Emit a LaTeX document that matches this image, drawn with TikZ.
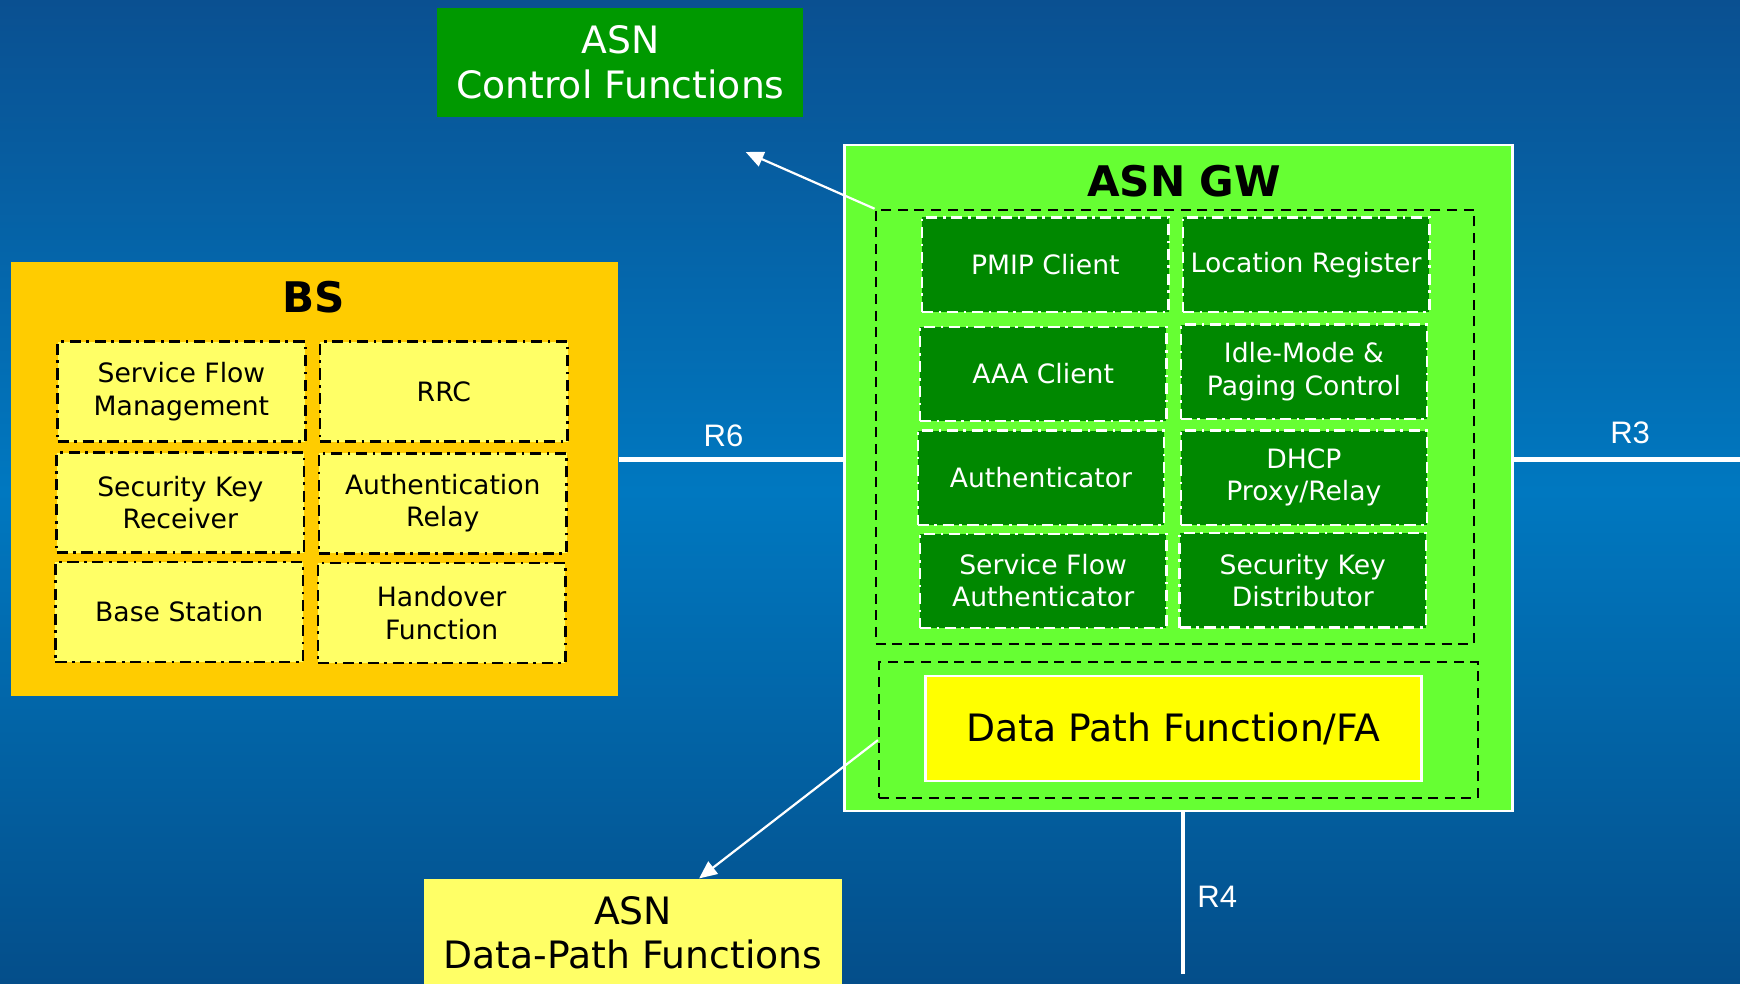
\documentclass[tikz,border=0pt]{standalone}
\usepackage{fontspec}
\setmainfont{DejaVu Sans}
\newfontfamily\arialfont{Liberation Sans}
\usetikzlibrary{arrows.meta}
\definecolor{bgtop}{RGB}{10,80,145}
\definecolor{bgmid}{RGB}{0,120,192}
\definecolor{bgbot}{RGB}{4,78,138}
\definecolor{ctrlgreen}{RGB}{0,153,0}
\definecolor{gwgreen}{RGB}{102,255,51}
\definecolor{subgreen}{RGB}{0,136,0}
\definecolor{bsorange}{RGB}{255,204,0}
\definecolor{lightyellow}{RGB}{255,255,102}
\definecolor{pureyellow}{RGB}{255,255,0}
\begin{document}
\begin{tikzpicture}[x=0.5pt,y=-0.5pt,
  dashdot/.style={dash pattern=on 5pt off 2.5pt on 1.2pt off 2.5pt},
  bssub/.style={draw=black, fill=lightyellow, line width=1.2pt, dashdot, minimum width=111.5pt, minimum height=45pt, inner sep=0pt, align=center, font=\fontsize{12}{14.5}\selectfont, text=black},
  gwsub/.style={draw=white, fill=subgreen, line width=1.1pt, dashdot, minimum width=111pt, minimum height=42.5pt, inner sep=0pt, align=center, font=\fontsize{12}{14.5}\selectfont, text=white},
  grpbox/.style={draw=black, dash pattern=on 4.5pt off 3pt, line width=0.9pt, inner sep=0pt},
  iface/.style={draw=white, line width=2pt},
  ilabel/.style={text=white, font=\arialfont\fontsize{14}{16}\selectfont},
  farrow/.style={draw=white, line width=1pt, -{Triangle[length=8pt,width=7pt]}},
  bigtext/.style={align=center, font=\fontsize{17}{20}\selectfont, inner sep=0pt},
  titletext/.style={font=\bfseries\fontsize{19}{22}\selectfont, text=black},
]
\shade[top color=bgtop, bottom color=bgbot, middle color=bgmid] (0,0) rectangle (1568,886);
\useasboundingbox (0,0) rectangle (1568,886);

% ASN control functions
\node[bigtext, fill=ctrlgreen, text=white, minimum width=165pt, minimum height=49pt] (ctrl) at (559,56) {ASN\\Control Functions};

% BS
\node[fill=bsorange, minimum width=273.5pt, minimum height=195.5pt, inner sep=0pt] (bs) at (283.5,431.5) {};
\node[titletext] (bstitle) at (283,268) {BS};
\node[bssub] (sfm) at (163.5,353) {Service Flow\\Management};
\node[bssub] (rrc) at (400,353) {RRC};
\node[bssub] (skr) at (162.5,453) {Security Key\\Receiver};
\node[bssub] (ar) at (399,453.5) {Authentication\\Relay};
\node[bssub] (bst) at (161.5,551.5) {Base Station};
\node[bssub] (hf) at (398,552.5) {Handover\\Function};

% ASN GW
\node[draw=white, line width=1pt, fill=gwgreen, minimum width=301pt, minimum height=300pt, inner sep=0pt] (gw) at (1062,431) {};
\node[titletext] (gwtitle) at (1067,163) {ASN GW};
\node[grpbox, minimum width=269.5pt, minimum height=195.5pt] (ctrlgrp) at (1058.5,384.5) {};
\node[gwsub] (pmip) at (942,238.5) {PMIP Client};
\node[gwsub] (locreg) at (1177,238.5) {Location Register};
\node[gwsub] (aaa) at (940,337) {AAA Client};
\node[gwsub] (idle) at (1175,335) {Idle-Mode \&\\Paging Control};
\node[gwsub] (auth) at (938,430.5) {Authenticator};
\node[gwsub] (dhcp) at (1175,430.5) {DHCP\\Proxy/Relay};
\node[gwsub] (sfa) at (940,523.5) {Service Flow\\Authenticator};
\node[gwsub] (skd) at (1174,523) {Security Key\\Distributor};
\node[grpbox, minimum width=270pt, minimum height=61pt] (datagrp) at (1062,658) {};
\node[bigtext, draw=white, line width=1pt, fill=pureyellow, minimum width=223.5pt, minimum height=47.5pt] (dpf) at (1057.5,656.5) {Data Path Function/FA};

% ASN data-path functions
\node[bigtext, fill=lightyellow, minimum width=188.5pt, minimum height=48.5pt] (dp) at (570.5,840.5) {ASN\\Data-Path Functions};

% interfaces
\coordinate (r3end) at (1568,414);
\coordinate (r4end) at (1066,878);
\draw[iface] (bs.east |- r3end) -- (gw.west |- r3end);
\draw[iface] (gw.east |- r3end) -- (r3end);
\draw[iface] (gw.south -| r4end) -- (r4end);
\node[ilabel] (r6lbl) at (652,393) {R6};
\node[ilabel] (r3lbl) at (1469,390) {R3};
\node[ilabel] (r4lbl) at (1097,808) {R4};

% arrows
\coordinate (ctrltip) at (672,137);
\coordinate (dpstart) at (792,667);
\coordinate (dptipx) at (630,0);
\draw[farrow] (ctrlgrp.north west) -- (ctrltip);
\draw[farrow] (datagrp.west |- dpstart) -- (dp.north -| dptipx);
\end{tikzpicture}
\end{document}
